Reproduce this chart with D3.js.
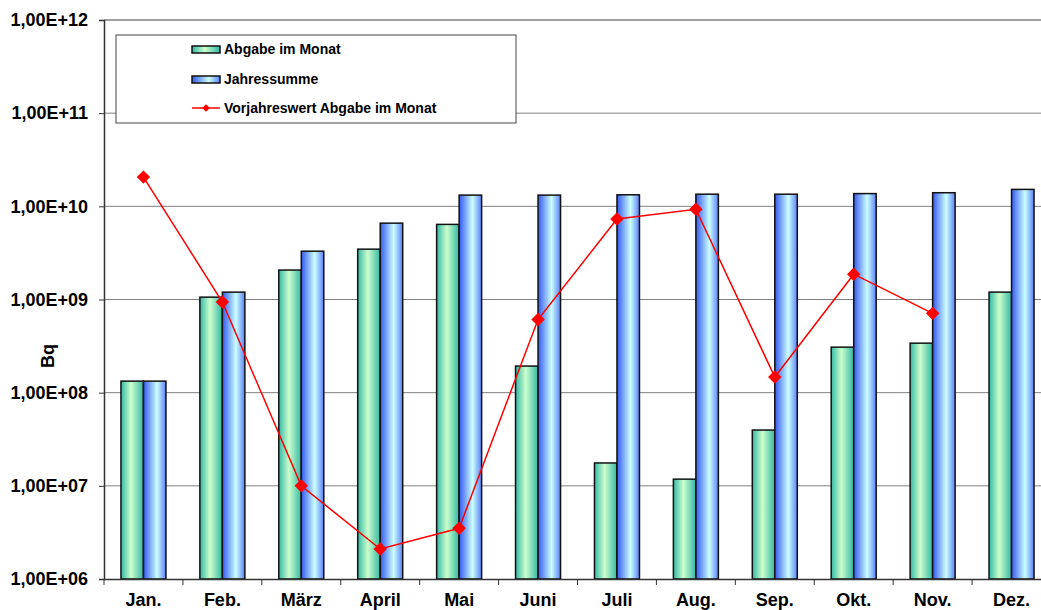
<!DOCTYPE html>
<html>
<head>
<meta charset="utf-8">
<script src="https://cdn.jsdelivr.net/npm/d3@7"></script>
<style>
  body { margin: 0; background: #fff; }
  svg { display: block; font-family: "Liberation Sans", Arial, sans-serif; font-weight: bold; }
</style>
</head>
<body>
<div id="chart"></div>
<script>
// monthly values in Bq
const months = ["Jan.", "Feb.", "März", "April", "Mai", "Juni", "Juli", "Aug.", "Sep.", "Okt.", "Nov.", "Dez."];
const abgabe = [1.33e8, 1.06e9, 2.07e9, 3.47e9, 6.4e9, 1.93e8, 1.76e7, 1.18e7, 3.97e7, 3.08e8, 3.4e8, 1.2e9];
const jahressumme = [1.33e8, 1.2e9, 3.3e9, 6.6e9, 1.32e10, 1.32e10, 1.33e10, 1.35e10, 1.35e10, 1.37e10, 1.4e10, 1.52e10];
const vorjahr = [2.06e10, 9.4e8, 1.0e7, 2.1e6, 3.5e6, 6.1e8, 7.3e9, 9.3e9, 1.47e8, 1.87e9, 7.1e8, null];
const yTicks = [1e6, 1e7, 1e8, 1e9, 1e10, 1e11, 1e12];
const legendLabels = ["Abgabe im Monat", "Jahressumme", "Vorjahreswert Abgabe im Monat"];

const width = 1041, height = 610;
const plotL = 104, plotR = 1051, plotT = 20, plotB = 579;
const font = "Liberation Sans, Arial, sans-serif";

const svg = d3.select("#chart").append("svg")
    .attr("width", width)
    .attr("height", height);

const defs = svg.append("defs");
const gGreen = defs.append("linearGradient").attr("id", "gGreen");
gGreen.append("stop").attr("offset", "0%").attr("stop-color", "#33b8a6");
gGreen.append("stop").attr("offset", "45%").attr("stop-color", "#ccffcc");
gGreen.append("stop").attr("offset", "100%").attr("stop-color", "#33b8a6");
const gBlue = defs.append("linearGradient").attr("id", "gBlue");
gBlue.append("stop").attr("offset", "0%").attr("stop-color", "#3358f0");
gBlue.append("stop").attr("offset", "60%").attr("stop-color", "#ccffff");
gBlue.append("stop").attr("offset", "100%").attr("stop-color", "#5a80f8");

const x = d3.scaleBand().domain(months).range([plotL, plotR]);
const y = d3.scaleLog().domain([1e6, 1e12]).range([plotB, plotT]);
const barW = 22.5;

// gridlines
svg.append("g").selectAll("line")
    .data(yTicks.slice(1))
    .enter().append("line")
    .attr("x1", plotL).attr("x2", plotR)
    .attr("y1", d => y(d)).attr("y2", d => y(d))
    .attr("stroke", d => d === 1e12 ? "#a0a0a0" : "#808080")
    .attr("stroke-width", d => d === 1e12 ? 2 : 1);

// y axis
const yAxis = svg.append("g")
    .attr("transform", `translate(${plotL},0)`)
    .call(d3.axisLeft(y).tickValues(yTicks).tickSize(5).tickPadding(11)
        .tickFormat(d => "1,00E+" + String(Math.round(Math.log10(d))).padStart(2, "0")));
yAxis.select(".domain").attr("stroke", "#333").attr("stroke-width", 1.5);
yAxis.selectAll(".tick line").attr("stroke", "#333");
yAxis.selectAll("text").attr("font-size", 18).attr("font-weight", "bold").attr("fill", "#000")
    .attr("font-family", font);

// bars
const groups = svg.append("g").selectAll("g")
    .data(months)
    .enter().append("g");
groups.append("rect")
    .attr("x", d => x(d) + x.bandwidth() / 2 - barW)
    .attr("y", (d, i) => y(abgabe[i]))
    .attr("width", barW)
    .attr("height", (d, i) => plotB - y(abgabe[i]))
    .attr("fill", "url(#gGreen)")
    .attr("stroke", "#111").attr("stroke-width", 1.5);
groups.append("rect")
    .attr("x", d => x(d) + x.bandwidth() / 2)
    .attr("y", (d, i) => y(jahressumme[i]))
    .attr("width", barW)
    .attr("height", (d, i) => plotB - y(jahressumme[i]))
    .attr("fill", "url(#gBlue)")
    .attr("stroke", "#111").attr("stroke-width", 1.5);

// x axis
const xAxis = svg.append("g")
    .attr("transform", `translate(0,${plotB})`)
    .call(d3.axisBottom(x).tickSize(0).tickPadding(14));
xAxis.select(".domain").attr("stroke", "#333").attr("stroke-width", 1.5);
xAxis.selectAll("text").attr("font-size", 18).attr("font-weight", "bold").attr("fill", "#000")
    .attr("font-family", font);
svg.append("g").selectAll("line")
    .data(months)
    .enter().append("line")
    .attr("x1", d => x(d)).attr("x2", d => x(d))
    .attr("y1", plotB).attr("y2", plotB + 6)
    .attr("stroke", "#333");

// previous year line
const pts = months.map((m, i) => ({ m, v: vorjahr[i] })).filter(d => d.v != null);
const line = d3.line().x(d => x(d.m) + x.bandwidth() / 2).y(d => y(d.v));
svg.append("path")
    .datum(pts)
    .attr("d", line)
    .attr("fill", "none")
    .attr("stroke", "#ff0000")
    .attr("stroke-width", 1.5);
const diamond = d3.symbol().type(d3.symbolSquare).size(90);
svg.append("g").selectAll("path")
    .data(pts)
    .enter().append("path")
    .attr("d", diamond)
    .attr("transform", d => `translate(${x(d.m) + x.bandwidth() / 2},${y(d.v)}) rotate(45)`)
    .attr("fill", "#ff0000");

// y label
svg.append("text")
    .attr("transform", "translate(54,356) rotate(-90)")
    .attr("text-anchor", "middle")
    .attr("font-size", 18)
    .text("Bq");

// legend
const legend = svg.append("g");
legend.append("rect")
    .attr("x", 116).attr("y", 35).attr("width", 400).attr("height", 88)
    .attr("fill", "#fff").attr("stroke", "#444").attr("stroke-width", 1);
const rowY = [49, 79, 108];
legendLabels.forEach((t, i) => {
    if (i < 2) {
        legend.append("rect")
            .attr("x", 192).attr("y", rowY[i] - 3).attr("width", 28).attr("height", 7)
            .attr("fill", i === 0 ? "url(#gGreen)" : "url(#gBlue)")
            .attr("stroke", "#111").attr("stroke-width", 1.5);
    } else {
        legend.append("line")
            .attr("x1", 192).attr("x2", 220).attr("y1", rowY[i]).attr("y2", rowY[i])
            .attr("stroke", "#ff0000").attr("stroke-width", 1.5);
        legend.append("path")
            .attr("d", d3.symbol().type(d3.symbolSquare).size(30))
            .attr("transform", `translate(206,${rowY[i]}) rotate(45)`)
            .attr("fill", "#ff0000");
    }
    legend.append("text")
        .attr("x", 224).attr("y", rowY[i] + 5)
        .attr("font-size", 14)
        .text(t);
});
</script>
</body>
</html>
